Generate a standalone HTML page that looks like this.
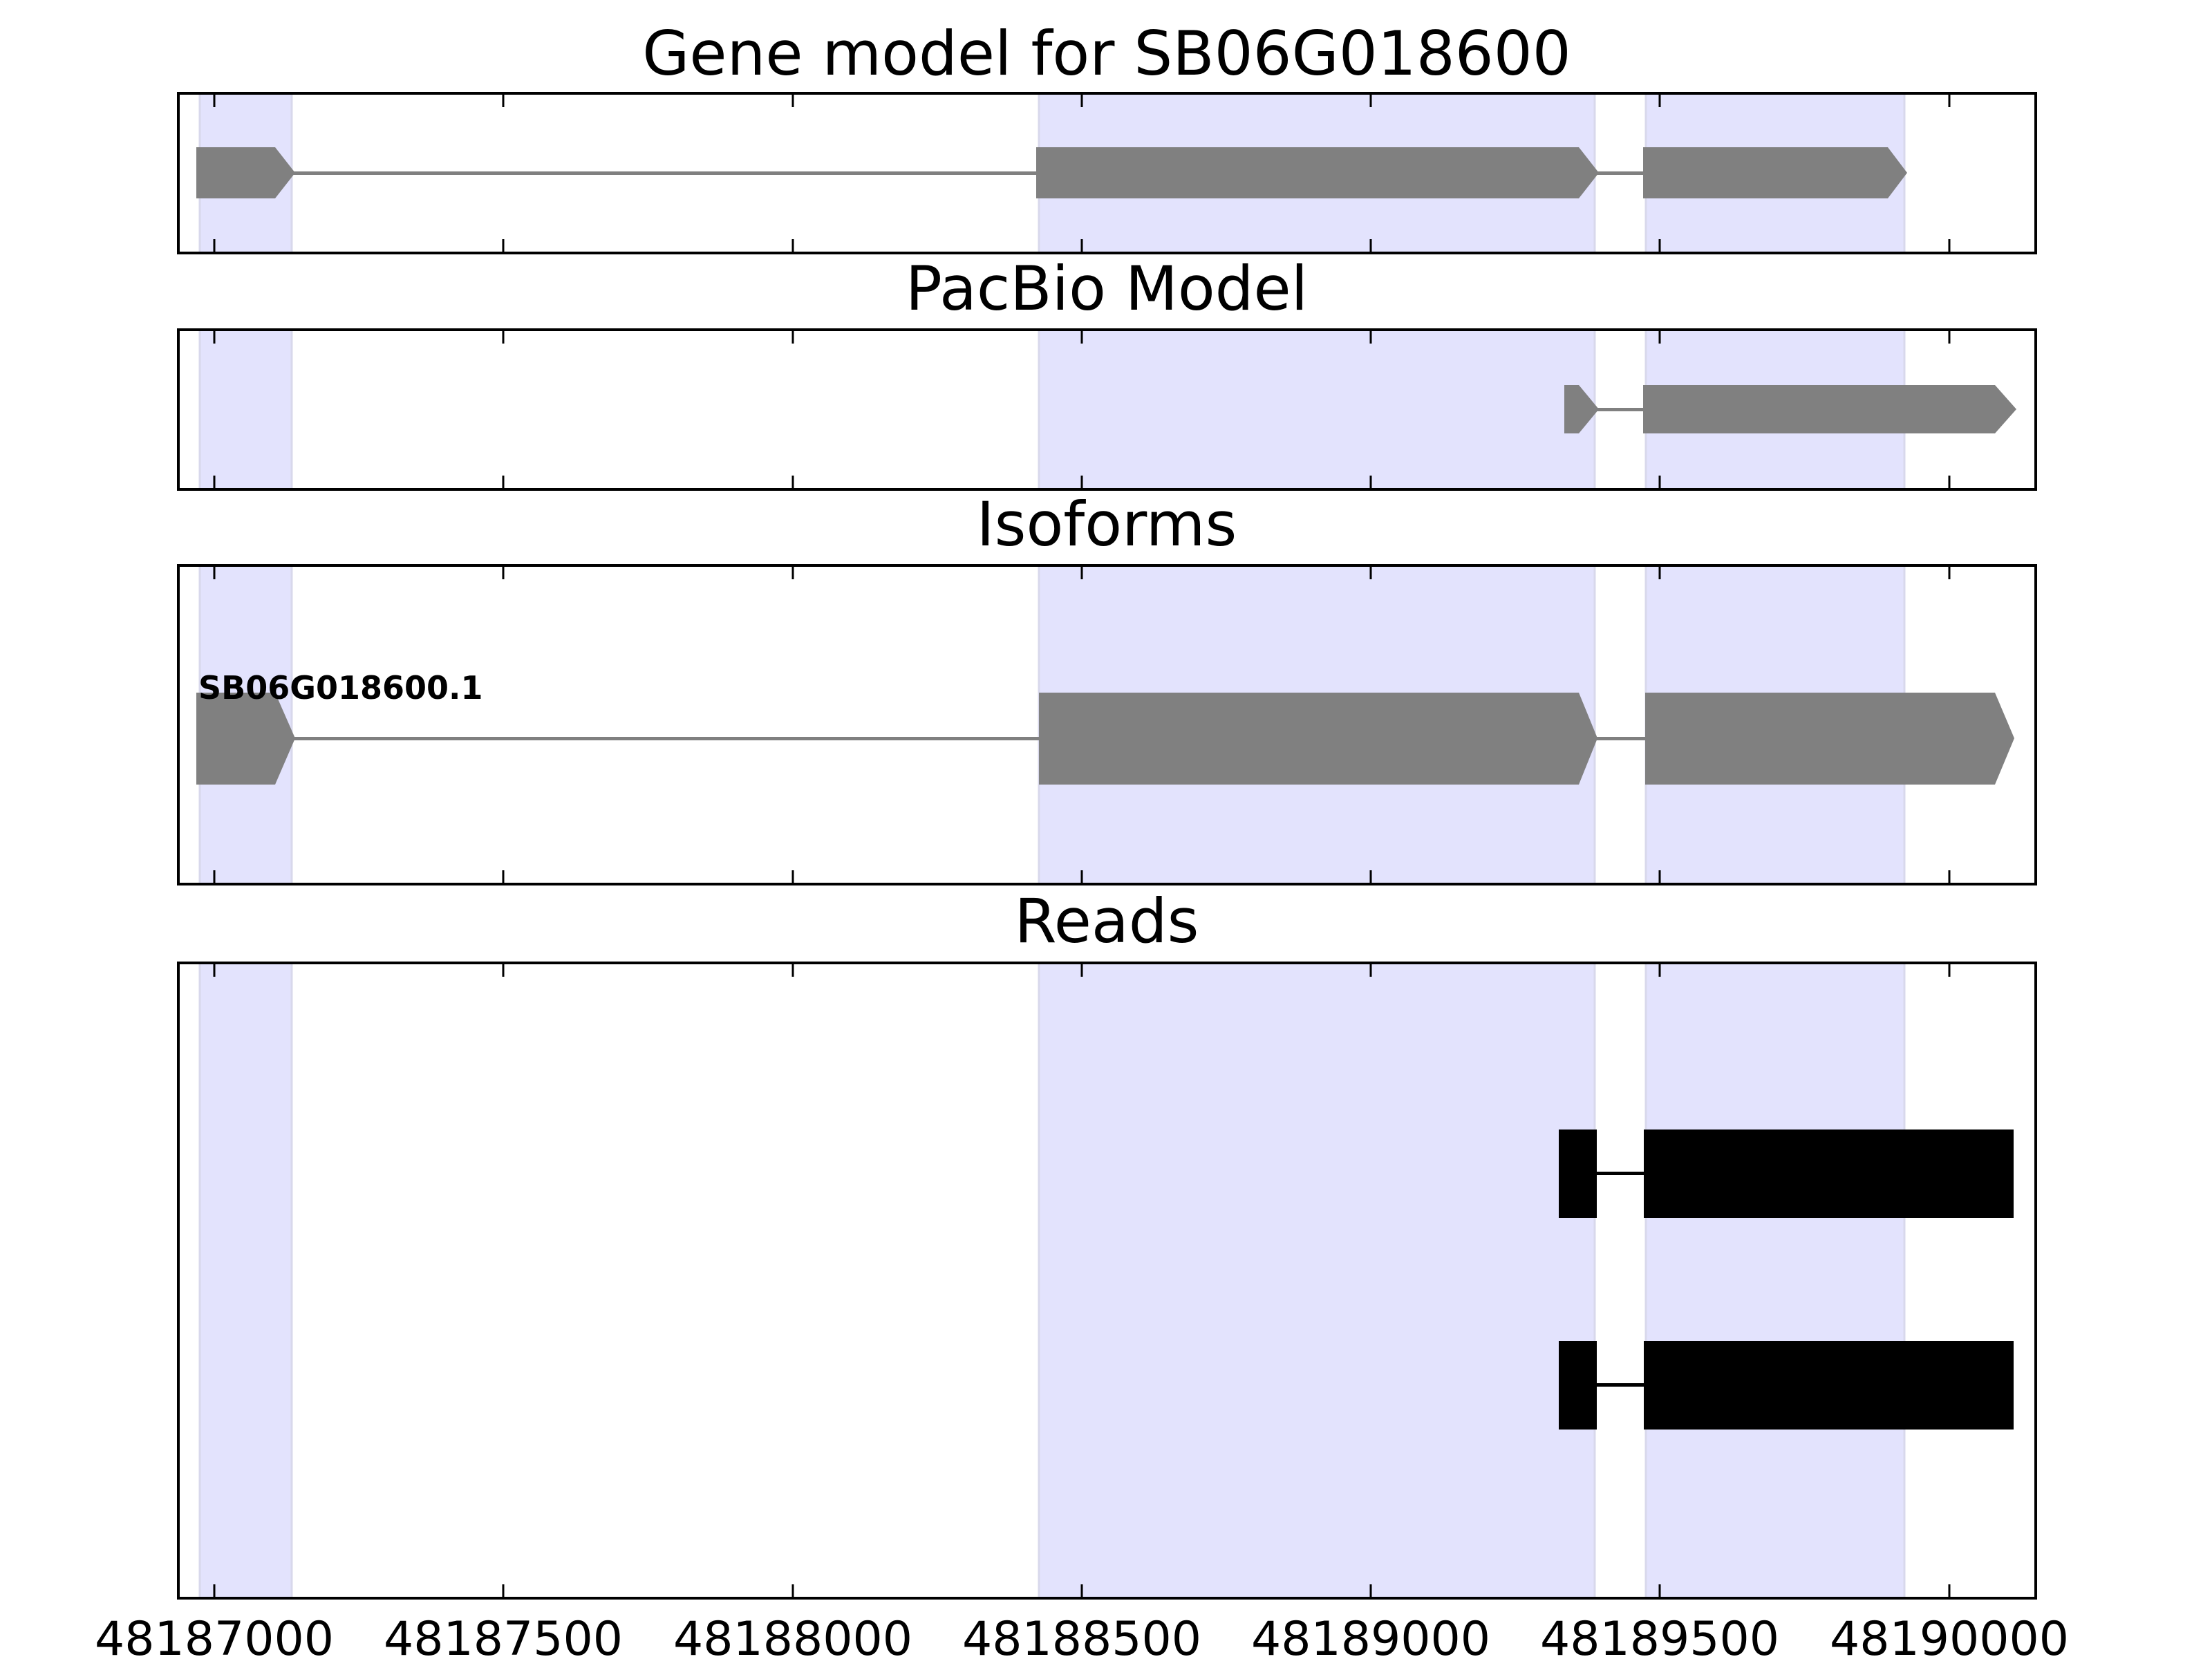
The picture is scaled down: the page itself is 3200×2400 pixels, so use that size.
<!DOCTYPE html>
<html><head><meta charset="utf-8"><style>html,body{margin:0;padding:0;background:#fff}svg{display:block}</style></head>
<body>
<svg width="3200" height="2400" viewBox="0 0 3200 2400" xmlns="http://www.w3.org/2000/svg" font-family="'DejaVu Sans','Liberation Sans',sans-serif">
<g fill="#e3e3fd" stroke="#d8d8ec" stroke-width="3">
<rect x="289" y="135" width="133" height="231"/><rect x="1503" y="135" width="804" height="231"/><rect x="2381" y="135" width="374" height="231"/>
<rect x="289" y="477" width="133" height="231"/><rect x="1503" y="477" width="804" height="231"/><rect x="2381" y="477" width="374" height="231"/>
<rect x="289" y="818" width="133" height="461"/><rect x="1503" y="818" width="804" height="461"/><rect x="2381" y="818" width="374" height="461"/>
<rect x="289" y="1393" width="133" height="919"/><rect x="1503" y="1393" width="804" height="919"/><rect x="2381" y="1393" width="374" height="919"/>
</g>
<g fill="#808080">
<rect x="420" y="248" width="1085" height="5"/>
<rect x="2300" y="248" width="80" height="5"/>
<polygon points="284,213 398,213 427,250 398,287 284,287"/>
<polygon points="1499,213 2284,213 2313,250 2284,287 1499,287"/>
<polygon points="2377,213 2731,213 2759,250 2731,287 2377,287"/>
</g>
<g fill="#808080">
<rect x="2300" y="590" width="80" height="5"/>
<polygon points="2263,557 2284,557 2313,592 2284,627 2263,627"/>
<polygon points="2377,557 2886,557 2917,592 2886,627 2377,627"/>
</g>
<g fill="#808080">
<rect x="420" y="1066" width="1085" height="5"/>
<rect x="2300" y="1066" width="80" height="5"/>
<polygon points="284,1002 398,1002 427,1068 398,1135 284,1135"/>
<polygon points="1503,1002 2284,1002 2311,1068 2284,1135 1503,1135"/>
<polygon points="2380,1002 2886,1002 2914,1068 2886,1135 2380,1135"/>
</g>
<text x="287" y="1011" font-size="46" font-weight="bold">SB06G018600.1</text>
<g fill="#000">
<rect x="2280" y="1695" width="100" height="5"/>
<rect x="2255" y="1634" width="55" height="128"/>
<rect x="2378" y="1634" width="535" height="128"/>
<rect x="2280" y="2001" width="100" height="5"/>
<rect x="2255" y="1940" width="55" height="128"/>
<rect x="2378" y="1940" width="535" height="128"/>
</g>
<g fill="none" stroke="#000" stroke-width="4">
<rect x="258" y="135" width="2687" height="231"/>
<rect x="258" y="477" width="2687" height="231"/>
<rect x="258" y="818" width="2687" height="461"/>
<rect x="258" y="1393" width="2687" height="919"/>
</g>
<g stroke="#000" stroke-width="3">
<path d="M310 135v20M728 135v20M1147 135v20M1565 135v20M1983 135v20M2401 135v20M2820 135v20
M310 366v-20M728 366v-20M1147 366v-20M1565 366v-20M1983 366v-20M2401 366v-20M2820 366v-20
M310 477v20M728 477v20M1147 477v20M1565 477v20M1983 477v20M2401 477v20M2820 477v20
M310 708v-20M728 708v-20M1147 708v-20M1565 708v-20M1983 708v-20M2401 708v-20M2820 708v-20
M310 818v20M728 818v20M1147 818v20M1565 818v20M1983 818v20M2401 818v20M2820 818v20
M310 1279v-20M728 1279v-20M1147 1279v-20M1565 1279v-20M1983 1279v-20M2401 1279v-20M2820 1279v-20
M310 1393v20M728 1393v20M1147 1393v20M1565 1393v20M1983 1393v20M2401 1393v20M2820 1393v20
M310 2312v-20M728 2312v-20M1147 2312v-20M1565 2312v-20M1983 2312v-20M2401 2312v-20M2820 2312v-20"/>
</g>
<g font-size="68" text-anchor="middle" fill="#000">
<text x="310" y="2394">48187000</text>
<text x="728" y="2394">48187500</text>
<text x="1147" y="2394">48188000</text>
<text x="1565" y="2394">48188500</text>
<text x="1983" y="2394">48189000</text>
<text x="2401" y="2394">48189500</text>
<text x="2820" y="2394">48190000</text>
</g>
<g font-size="88" text-anchor="middle" fill="#000">
<text x="1601" y="108">Gene model for SB06G018600</text>
<text x="1601" y="448">PacBio Model</text>
<text x="1601" y="789">Isoforms</text>
<text x="1601" y="1363">Reads</text>
</g>
</svg>
</body></html>
